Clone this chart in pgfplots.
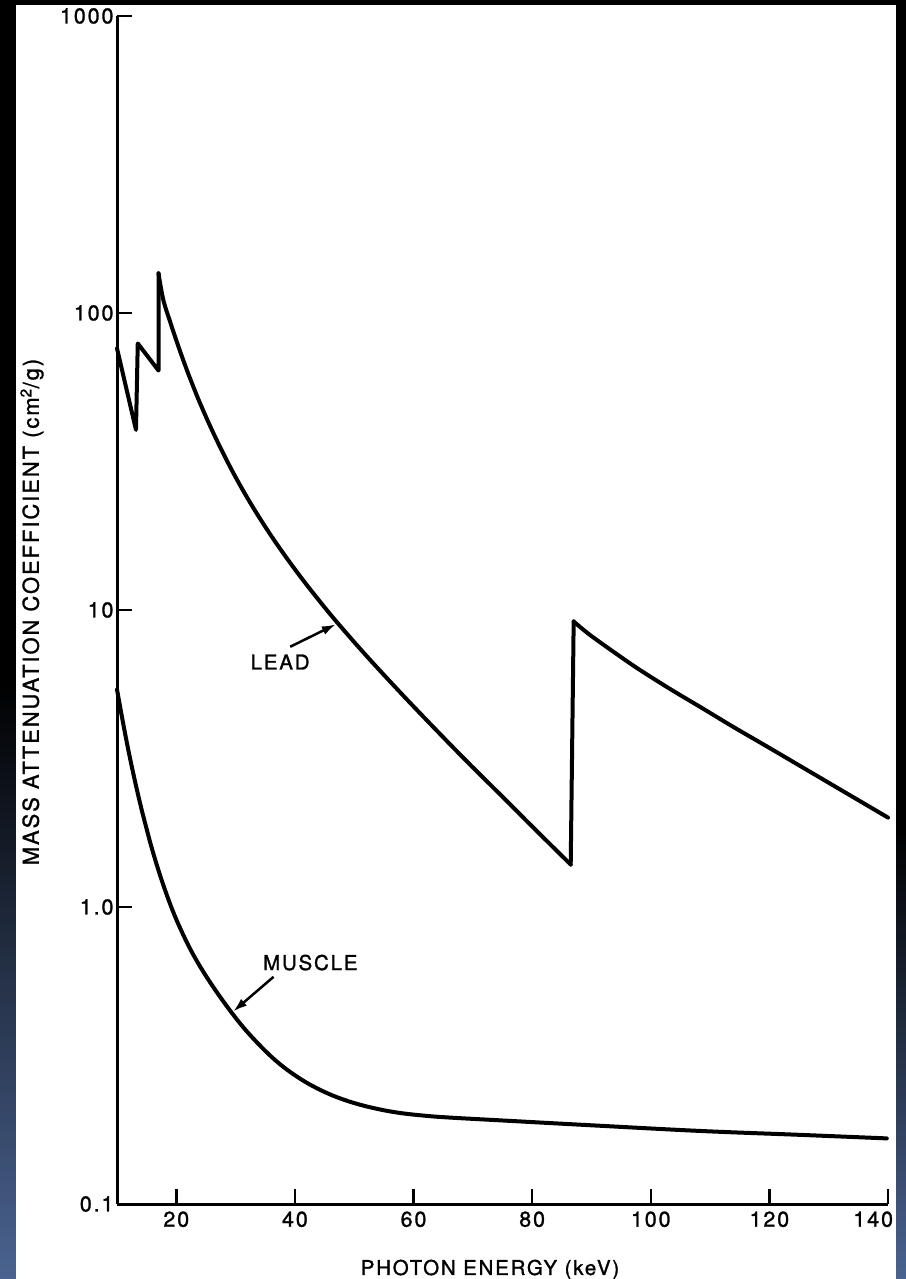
\documentclass[border=0pt]{standalone}
\usepackage{fontspec}
\setmainfont{TeX Gyre Heros}[LetterSpace=9,FakeBold=1.3]
\usepackage{pgfplots}
\pgfplotsset{compat=1.18}
\usetikzlibrary{arrows.meta}
\definecolor{edgeblue}{HTML}{4A6390}
\tikzset{curve/.style={black, line width=4bp, line join=round, line cap=round, mark=none}}
\begin{document}
\begin{tikzpicture}[x=1bp,y=1bp]
\fill[black] (0,0) rectangle (906,1279);
\shade[top color=black,bottom color=edgeblue] (0,0) rectangle (16,600);
\shade[top color=black,bottom color=edgeblue] (896,0) rectangle (906,450);
\fill[white] (16,0) rectangle (896,1274);
\begin{axis}[
  at={(117bp,75bp)}, anchor=south west,
  scale only axis, width=771bp, height=1188bp,
  xmin=10, xmax=140, ymin=0.1, ymax=1000, ymode=log,
  axis lines=left, axis line style={line width=3bp,-},
  xtick={20,40,60,80,100,120,140},
  xticklabels={20,40,60,80,100,120,\llap{140\hspace{-5bp}}},
  ytick={0.1,1,10,100,1000},
  yticklabels={0.1,1.0,10,100,1000},
  yminorticks=false, xminorticks=false,
  tick align=inside, major tick length=15bp,
  tick style={line width=2.5bp,black},
  tick label style={font=\fontsize{21.5}{24}\selectfont},
  xticklabel style={yshift=-4bp},
  /pgf/number format/assume math mode=true,
  clip=false,
]
% lead, L edges
\addplot[curve] coordinates {(10,76) (13.2,40.4) (13.5,79) (17.0,64) (17.0,136)};
% lead, L edge to K edge
\addplot[curve, smooth, tension=0.6] coordinates {
(17.0,136) (17.8,110.9) (19,92.9) (20,80.9) (21.2,69.1) (22.5,58.96) (24,49.7)
(26,40.4) (28,33.4) (30,28.0) (32.5,22.9) (35.3,18.66) (38,15.56) (41,12.89)
(44,10.81) (47.1,9.09) (52,7.03) (57.75,5.28) (63,4.10) (69,3.09) (75,2.35)
(80.2,1.85) (86.5,1.39)
};
% K edge
\addplot[curve] coordinates {(86.5,1.39) (87.0,9.15)};
\addplot[curve, smooth, tension=0.5] coordinates {
(87.0,9.15) (90,8.17) (97.1,6.49) (103,5.46) (108.3,4.72) (114,4.03)
(119.6,3.47) (130,2.62) (140,2.00)
};
% muscle
\addplot[curve, smooth, tension=0.6] coordinates {
(10,5.40) (11,4.19) (12,3.31) (13,2.67) (14,2.19) (15,1.83) (15.9,1.57)
(17.2,1.29) (18.6,1.07) (20,0.908) (22,0.745) (24,0.631) (26.5,0.528)
(29.4,0.439) (32,0.379) (35.3,0.3234) (38,0.290) (40.9,0.264) (43.5,0.2465)
(46.5,0.2313) (50,0.2187) (54,0.2088) (57.75,0.2025) (62,0.1982) (66.2,0.1954)
(74.6,0.1913) (90,0.1841) (108.3,0.1762) (125,0.1710) (139.8,0.1663)
};
\node[font=\fontsize{20.5}{24}\selectfont] at (axis cs:37.5,6.68) {LEAD};
\draw[line width=2.5bp,-{Latex[length=14bp,width=9bp]}] (axis cs:39.2,7.52) -- (axis cs:46.9,8.95);
\node[font=\fontsize{20.5}{24}\selectfont] at (axis cs:42.6,0.650) {MUSCLE};
\draw[line width=2.5bp,-{Latex[length=14bp,width=9bp]}] (axis cs:36.4,0.582) -- (axis cs:29.6,0.445);
\end{axis}
\node[rotate=90,font=\fontsize{22}{26}\selectfont] at (32,667) {MASS ATTENUATION COEFFICIENT (cm\textsuperscript{2}/g)};
\node[anchor=base,font=\fontsize{20.5}{24}\selectfont] at (490,4) {PHOTON ENERGY (keV)};
\pgfresetboundingbox
\path (0,0) rectangle (906,1279);
\end{tikzpicture}
\end{document}
